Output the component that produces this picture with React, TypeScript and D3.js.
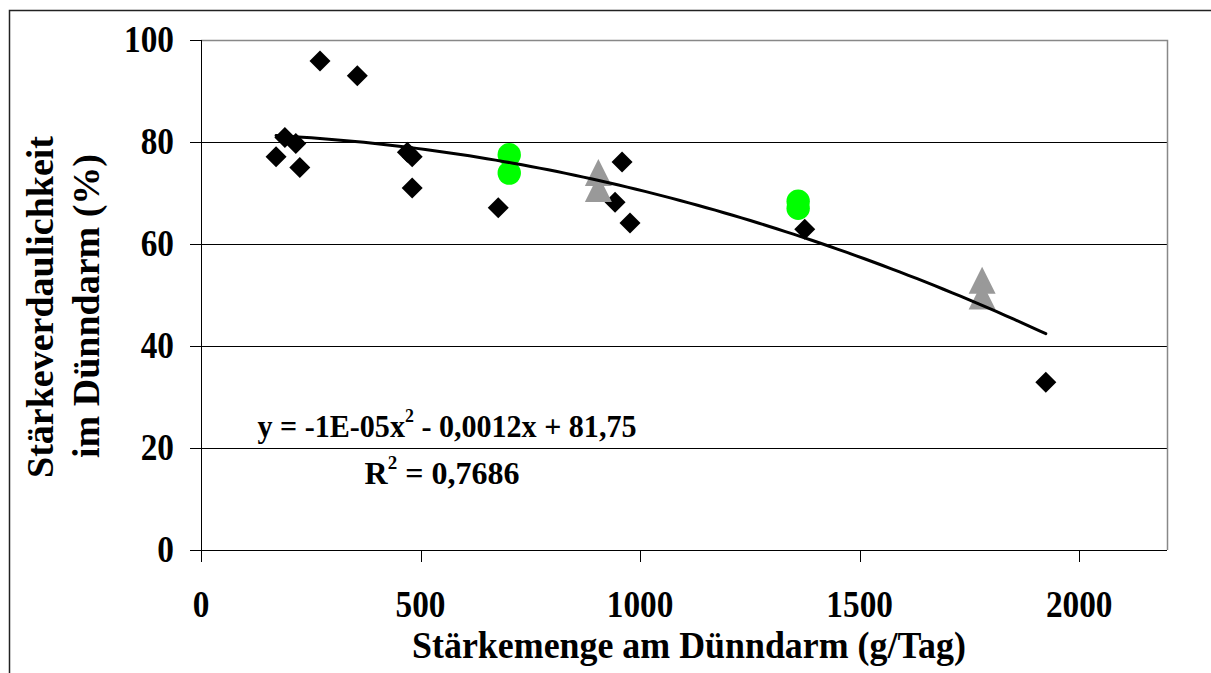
import React, { useEffect, useRef } from 'react';
import * as d3 from 'd3';

// black diamonds
const diamondX = [171, 191, 216, 225, 271, 356, 470, 481, 481, 677, 943, 959, 977, 1375, 1924];
const diamondY = [77.1, 80.9, 79.7, 75.0, 95.9, 93.0, 78.0, 77.1, 71.0, 67.1, 68.2, 76.1, 64.1, 62.9, 32.9];
// green circles
const circleX = [702, 702, 1360, 1360];
const circleY = [77.5, 73.9, 68.4, 67.0];
// grey triangles
const triangleX = [905, 905, 1779, 1779];
const triangleY = [74.0, 70.9, 52.9, 49.8];

const xTicks = [0, 500, 1000, 1500, 2000];
const yTicks = [0, 20, 40, 60, 80, 100];
// polynomial trend: y = a x^2 + b x + c
const trendCoef = [-1e-5, -0.0012, 81.75];

const FONT = '"Liberation Serif", "Times New Roman", serif';
const SQ = 0.9; // tick labels look horizontally condensed

const App = () => {
  const svgRef = useRef<SVGSVGElement>(null);

  useEffect(() => {
    const svg = d3.select(svgRef.current);
    svg.selectAll('*').remove();

    const width = 1211;
    const height = 673;
    const left = 201, right = 1167, top = 40, bottom = 550;

    const x = d3.scaleLinear().domain([0, 2200]).range([left, right]);
    const y = d3.scaleLinear().domain([0, 100]).range([bottom, top]);

    svg.attr('width', width).attr('height', height);

    // outer frame (top and left visible)
    svg.append('path')
      .attr('d', `M9.5,${height} L9.5,10.5 L${width},10.5`)
      .attr('fill', 'none')
      .attr('stroke', '#222')
      .attr('stroke-width', 1.5);

    // gridlines
    svg.selectAll('.grid')
      .data(yTicks.filter(t => t > 0 && t < 100))
      .enter()
      .append('line')
      .attr('x1', left).attr('x2', right)
      .attr('y1', d => Math.round(y(d)) + 0.5).attr('y2', d => Math.round(y(d)) + 0.5)
      .attr('stroke', '#000')
      .attr('stroke-width', 1);

    // plot border top + right (grey)
    svg.append('path')
      .attr('d', `M${left},${top + 0.5} L${right + 0.5},${top + 0.5} L${right + 0.5},${bottom}`)
      .attr('fill', 'none')
      .attr('stroke', '#888')
      .attr('stroke-width', 1.5);

    // axes
    svg.append('line')
      .attr('x1', left + 0.5).attr('x2', left + 0.5)
      .attr('y1', top).attr('y2', bottom + 12)
      .attr('stroke', '#000');
    svg.append('line')
      .attr('x1', left - 11).attr('x2', right)
      .attr('y1', bottom + 0.5).attr('y2', bottom + 0.5)
      .attr('stroke', '#000');

    const boldText = (tx: string, size: number, anchor = 'middle') =>
      (g: any) => g.append('text')
        .attr('text-anchor', anchor)
        .attr('font-family', FONT)
        .attr('font-weight', 'bold')
        .attr('font-size', size)
        .text(tx);

    // y ticks + labels
    yTicks.forEach(t => {
      svg.append('line')
        .attr('x1', left - 11).attr('x2', left)
        .attr('y1', Math.round(y(t)) + 0.5).attr('y2', Math.round(y(t)) + 0.5)
        .attr('stroke', '#000');
      svg.append('g')
        .attr('transform', `translate(174,${y(t) + 12}) scale(${SQ},1)`)
        .call(boldText(String(t), 37, 'end'));
    });

    // x ticks + labels
    xTicks.forEach(t => {
      svg.append('line')
        .attr('x1', Math.round(x(t)) + 0.5).attr('x2', Math.round(x(t)) + 0.5)
        .attr('y1', bottom).attr('y2', bottom + 12)
        .attr('stroke', '#000');
      svg.append('g')
        .attr('transform', `translate(${x(t)},617) scale(${SQ},1)`)
        .call(boldText(String(t), 37));
    });

    // axis titles
    svg.append('g')
      .attr('transform', 'translate(689,658) scale(0.97,1)')
      .call(boldText('Stärkemenge am Dünndarm (g/Tag)', 37));

    const yTitle = [
      { text: 'Stärkeverdaulichkeit', x: 53, y: 307 },
      { text: 'im Dünndarm (%)', x: 99, y: 306 }
    ];
    yTitle.forEach(l => {
      svg.append('g')
        .attr('transform', `translate(${l.x},${l.y}) rotate(-90)`)
        .call(boldText(l.text, 38));
    });

    // markers
    const diamonds = diamondX.map((d, i) => ({ x: d, y: diamondY[i] }));
    svg.selectAll('.diamond')
      .data(diamonds)
      .enter()
      .append('path')
      .attr('class', 'diamond')
      .attr('d', d => {
        const cx = x(d.x), cy = y(d.y), r = 10.5;
        return `M${cx},${cy - r}L${cx + r},${cy}L${cx},${cy + r}L${cx - r},${cy}Z`;
      })
      .attr('fill', '#000');

    const circles = circleX.map((d, i) => ({ x: d, y: circleY[i] }));
    svg.selectAll('.circ')
      .data(circles)
      .enter()
      .append('ellipse')
      .attr('cx', d => x(d.x))
      .attr('cy', d => y(d.y))
      .attr('rx', 11.7)
      .attr('ry', 11.7)
      .attr('fill', '#00ff00');

    const tris = triangleX.map((d, i) => ({ x: d, y: triangleY[i] }));
    svg.selectAll('.tri')
      .data(tris)
      .enter()
      .append('path')
      .attr('d', d => {
        const cx = x(d.x), cy = y(d.y), h = 13.5;
        return `M${cx},${cy - h}L${cx + h},${cy + h}L${cx - h},${cy + h}Z`;
      })
      .attr('fill', '#999999');

    // trendline
    const xMin = d3.min(diamondX) as number;
    const xMax = d3.max(diamondX) as number;
    const trend = d3.range(xMin, xMax + 1, 20).concat([xMax]).map(v => ({
      x: v,
      y: trendCoef[0] * v * v + trendCoef[1] * v + trendCoef[2]
    }));
    const line = d3.line<{ x: number; y: number }>()
      .x(d => x(d.x))
      .y(d => y(d.y));
    svg.append('path')
      .datum(trend)
      .attr('d', line)
      .attr('fill', 'none')
      .attr('stroke', '#000')
      .attr('stroke-width', 3)
      .attr('stroke-linecap', 'round')
      .attr('stroke-linejoin', 'round');

    // equation
    const eq = svg.append('g')
      .attr('transform', 'translate(447,437) scale(0.94,1)')
      .append('text')
      .attr('text-anchor', 'middle')
      .attr('font-family', FONT)
      .attr('font-weight', 'bold')
      .attr('font-size', 32);
    eq.append('tspan').text('y = -1E-05x');
    eq.append('tspan').attr('font-size', 19).attr('dy', -15).text('2');
    eq.append('tspan').attr('dy', 15).text(' - 0,0012x + 81,75');

    const r2 = svg.append('g')
      .attr('transform', 'translate(442,484)')
      .append('text')
      .attr('text-anchor', 'middle')
      .attr('font-family', FONT)
      .attr('font-weight', 'bold')
      .attr('font-size', 32);
    r2.append('tspan').text('R');
    r2.append('tspan').attr('font-size', 19).attr('dy', -15).text('2');
    r2.append('tspan').attr('dy', 15).text(' = 0,7686');
  }, []);

  return (
    <svg
      ref={svgRef}
      style={{ position: 'absolute', left: 0, top: 0, background: '#fff' }}
    ></svg>
  );
};

export default App;
